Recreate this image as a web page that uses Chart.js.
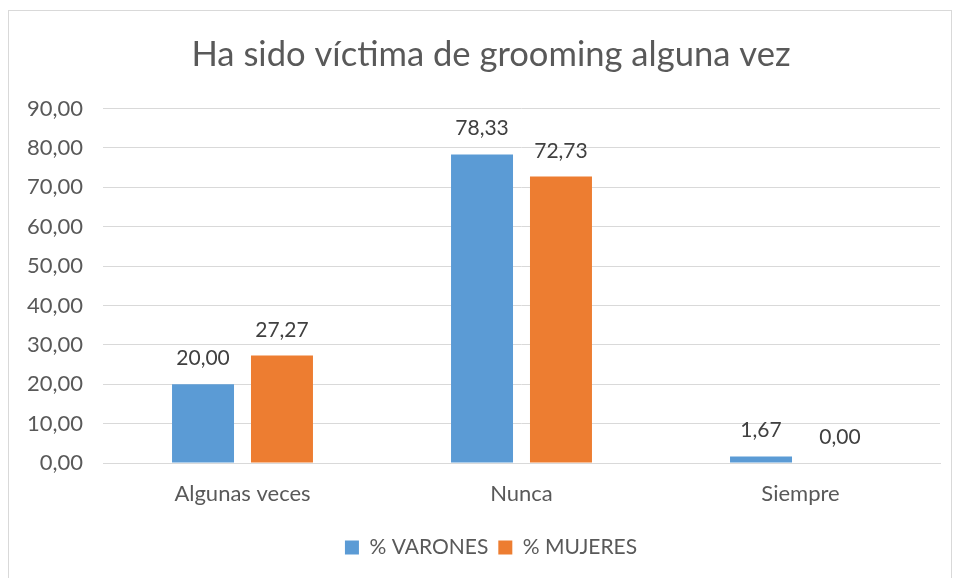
<!DOCTYPE html>
<html>
<head>
<meta charset="utf-8">
<script src="https://cdn.jsdelivr.net/npm/chart.js@4"></script>
<style>
  html, body { margin: 0; padding: 0; background: #fff; }
  #wrap { width: 957px; height: 578px; position: relative; }
</style>
</head>
<body>
<div id="wrap"><canvas id="grooming"></canvas></div>
<script>
const categories = ["Algunas veces", "Nunca", "Siempre"];
const varones = [20.0, 78.33, 1.67];
const mujeres = [27.27, 72.73, 0.0];
const yTicks = [0, 10, 20, 30, 40, 50, 60, 70, 80, 90];

const FONT = "Lato, 'Open Sans', sans-serif";
const fmt = (v) => v.toFixed(2).replace(".", ",");

// light frame round the whole chart, like the Excel chart border;
// also nudges title and legend so they are centred like the original
const frame = {
  id: "frame",
  beforeDraw(chart) {
    if (chart.titleBlock) chart.titleBlock.left = 42;
    if (chart.legend) chart.legend.left = 42;
    const c = chart.ctx;
    c.save();
    c.fillStyle = "#fff";
    c.fillRect(0, 0, chart.width, chart.height);
    c.strokeStyle = "#d9d9d9";
    c.lineWidth = 1;
    c.strokeRect(8.5, 10.5, 943, 590);
    c.restore();
  },
};

// value labels above each bar
const barLabels = {
  id: "barLabels",
  afterDatasetsDraw(chart) {
    const c = chart.ctx;
    c.save();
    c.font = "21px " + FONT;
    c.fillStyle = "#404040";
    c.textAlign = "center";
    c.textBaseline = "alphabetic";
    chart.data.datasets.forEach((ds, i) => {
      chart.getDatasetMeta(i).data.forEach((bar, j) => {
        c.fillText(fmt(ds.data[j]), bar.x, bar.y - 19);
      });
    });
    c.restore();
  },
};

new Chart(document.getElementById("grooming"), {
  type: "bar",
  data: {
    labels: categories,
    datasets: [
      {
        label: "% VARONES",
        data: varones,
        backgroundColor: "#5B9BD5",
        barPercentage: 0.785,
        categoryPercentage: 0.566,
      },
      {
        label: "% MUJERES",
        data: mujeres,
        backgroundColor: "#ED7D31",
        barPercentage: 0.785,
        categoryPercentage: 0.566,
      },
    ],
  },
  options: {
    responsive: true,
    maintainAspectRatio: false,
    animation: false,
    layout: { padding: { left: 0, right: 17, top: 0, bottom: 10 } },
    plugins: {
      title: {
        display: true,
        text: "Ha sido víctima de grooming alguna vez",
        color: "#595959",
        font: { family: FONT, size: 34.6, weight: "normal" },
        padding: { top: 34, bottom: 33 },
      },
      legend: {
        position: "bottom",
        labels: {
          color: "#595959",
          font: { family: FONT, size: 21 },
          boxWidth: 14,
          boxHeight: 14,
          padding: 10,
        },
      },
      tooltip: { enabled: false },
    },
    scales: {
      x: {
        grid: { display: false, drawTicks: false },
        border: { color: "#d9d9d9" },
        ticks: {
          color: "#595959",
          font: { family: FONT, size: 22 },
          padding: 18,
        },
        afterFit(scale) {
          scale.height = 64;
        },
      },
      y: {
        min: 0,
        max: 90,
        afterBuildTicks(scale) {
          scale.ticks = yTicks.map((v) => ({ value: v }));
        },
        grid: { color: "#d9d9d9", drawTicks: false },
        border: { display: false },
        ticks: {
          color: "#595959",
          font: { family: FONT, size: 22 },
          padding: 20,
          callback: (v) => fmt(v),
        },
        afterFit(scale) {
          scale.width = 103;
        },
      },
    },
  },
  plugins: [frame, barLabels],
});
</script>
</body>
</html>
